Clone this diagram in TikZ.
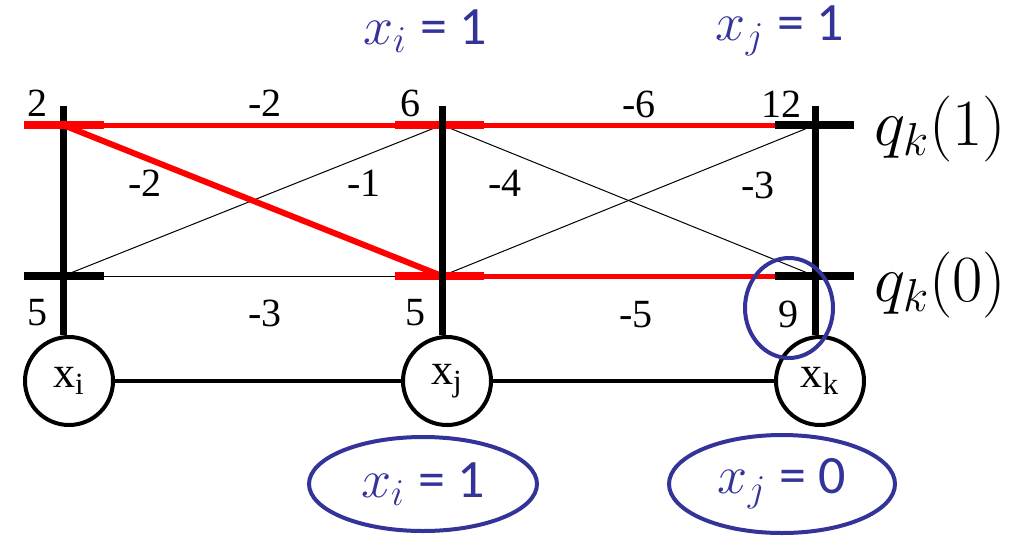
\RequirePackage{fix-cm}
\documentclass[tikz,border=0pt]{standalone}
\usepackage{amsmath}
\usepackage{xcolor}
\usepackage{fontspec}
\setmainfont{Liberation Serif}
\setsansfont{Carlito}
\usepackage{tikz}
\usetikzlibrary{shapes.geometric}
\definecolor{markblue}{RGB}{51,51,153}

\begin{document}
\begin{tikzpicture}[x=0.5pt,y=-0.5pt,
  bar/.style={line width=3.5pt},
  tickmark/.style={line width=4pt},
  thinedge/.style={line width=0.5pt},
  redpath/.style={red,line width=2.5pt},
  var/.style={circle,draw,line width=2pt,minimum size=44pt,inner sep=0pt,font=\fontsize{22}{24}\selectfont},
  cost/.style={font=\fontsize{20}{22}\selectfont},
  qlab/.style={anchor=west,inner sep=1pt,font=\fontsize{33}{36}\selectfont},
  assign/.style={text=markblue,inner sep=1pt,font=\fontsize{27}{30}\selectfont},
  ring/.style={ellipse,draw=markblue,line width=2pt,inner sep=0pt}]
  \useasboundingbox (0,0) rectangle (1032,552);

  % Grid points: column a, b, c; row 1 (top) and row 0 (bottom)
  \coordinate (a1) at (63,125);
  \coordinate (b1) at (442,125);
  \coordinate (c1) at (815,125);
  \coordinate (a0) at (63,276);
  \coordinate (b0) at (442,276);
  \coordinate (c0) at (815,276);
  \coordinate (atop) at (63,106);
  \coordinate (btop) at (442,106);
  \coordinate (ctop) at (815,106);

  % Variable nodes
  \node[var] (xi) at (69,381) {x\textsubscript{i}};
  \node[var] (xj) at (447,381) {x\textsubscript{j}};
  \node[var] (xk) at (820,381) {x\textsubscript{k}};

  % Thin edges between the rows
  \draw[thinedge] (a0) -- (b1);
  \draw[thinedge] (a0) -- (b0);
  \draw[thinedge] (b1) -- (c0);
  \draw[thinedge] (b0) -- (c1);

  % Column a bar
  \draw[bar] (atop) -- (atop |- xi.north);

  % Red best path
  \draw[redpath] ([xshift=-19.5pt]a1) -- ([xshift=-20pt]c1);
  \draw[redpath] (b0) -- ([xshift=-20pt]c0);
  \draw[red,line width=3pt] (a1) -- (b0);
  \draw[tickmark,red] ([xshift=-19.5pt]a1) -- ([xshift=20.5pt]a1);
  \draw[tickmark,red] ([xshift=-23.5pt]b1) -- ([xshift=21pt]b1);
  \draw[tickmark,red] ([xshift=-23.5pt]b0) -- ([xshift=21pt]b0);

  % Column b and c bars
  \draw[bar] (btop) -- (btop |- xj.north);
  \draw[bar] (ctop) -- (ctop |- xk.north);

  % Black ticks
  \draw[tickmark] ([xshift=-19.5pt]a0) -- ([xshift=20.5pt]a0);
  \foreach \p in {c1,c0} {
    \draw[tickmark] ([xshift=-20pt]\p) -- ([xshift=19.5pt]\p);
  }

  % Chain of variables
  \draw[line width=2pt] (xi) -- (xj);
  \draw[line width=2pt] (xj) -- (xk);

  % Costs on the edges
  \node[cost] (wa1) at (37,103) {2};
  \node[cost] (wab1) at (265,103) {-2};
  \node[cost] (wb1) at (410,103) {6};
  \node[cost] (wbc1) at (639,104) {-6};
  \node[cost] (wc1) at (781,104) {12};
  \node[cost] (wab10) at (145,183) {-2};
  \node[cost] (wab01) at (364,183) {-1};
  \node[cost] (wbc10) at (505,183) {-4};
  \node[cost] (wbc01) at (758,185) {-3};
  \node[cost] (wa0) at (37,313) {5};
  \node[cost] (wab0) at (265,313) {-3};
  \node[cost] (wb0) at (415,313) {5};
  \node[cost] (wbc0) at (636,315) {-5};
  \node[cost] (wc0) at (788,314) {9};

  % Row labels
  \node[qlab] (q1) at (872,129) {$q_k(1)$};
  \node[qlab] (q0) at (872,285) {$q_k(0)$};

  % Assignments in blue
  \node[assign] (topi) at (425,31) {$x_i$ {\sffamily = 1}};
  \node[assign] (topj) at (780,31) {$x_j$ {\sffamily = 1}};
  \node[ring,minimum width=114pt,minimum height=47pt] (fixi) at (423,484) {};
  \node[assign] (fixitext) at (fixi) {$x_i$ {\sffamily = 1}};
  \node[ring,minimum width=113pt,minimum height=49pt] (fixj) at (782,484) {};
  \node[assign] (fixjtext) at (fixj) {$x_j$ {\sffamily = 0}};
  \node[ring,minimum width=44pt,minimum height=50pt] (ring9) at (789,308) {};
\end{tikzpicture}
\end{document}
